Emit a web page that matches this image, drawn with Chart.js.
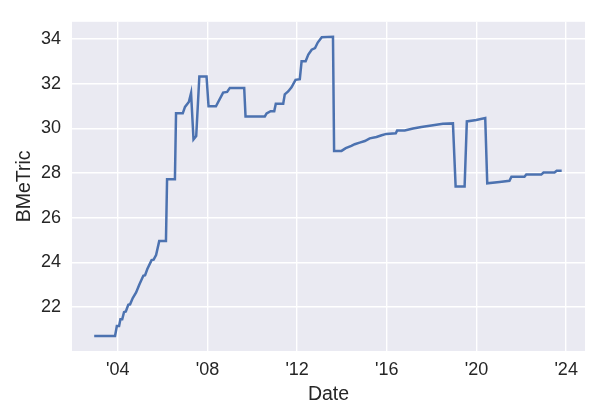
<!DOCTYPE html>
<html>
<head>
<meta charset="utf-8">
<script src="https://cdn.jsdelivr.net/npm/chart.js@4/dist/chart.umd.min.js"></script>
<style>
  html, body { margin: 0; padding: 0; background: #fff; }
  #wrap { width: 600px; height: 420px; }
</style>
</head>
<body>
<div id="wrap"><canvas id="bmetricChart" width="600" height="420"></canvas></div>
<script>
// Dates as decimal years
const dates = [
    2002.95, 2003.88, 2003.96, 2004.06, 2004.12, 2004.2, 2004.28, 2004.36, 2004.47, 2004.55,
    2004.67, 2004.82, 2004.96, 2005.14, 2005.22, 2005.32, 2005.51, 2005.6, 2005.71, 2005.85,
    2006.15, 2006.2, 2006.55, 2006.6, 2006.9,
    2007.0, 2007.17, 2007.27, 2007.31, 2007.38, 2007.5, 2007.64, 2007.96, 2008.05, 2008.38,
    2008.7, 2008.88, 2009.0, 2009.64, 2009.7, 2010.56, 2010.64, 2010.82, 2010.98, 2011.05,
    2011.38, 2011.45, 2011.6, 2011.75, 2011.93, 2012.12, 2012.2, 2012.38, 2012.5, 2012.65,
    2012.8, 2012.92, 2013.1, 2013.6, 2013.65, 2013.98, 2014.17, 2014.42, 2014.57, 2014.79,
    2015.02, 2015.24, 2015.54, 2015.77, 2015.98, 2016.4, 2016.46, 2016.8, 2017.17, 2017.54,
    2017.99, 2018.5, 2018.95, 2019.07, 2019.47, 2019.57, 2019.99, 2020.39, 2020.48, 2021.03,
    2021.47, 2021.56, 2022.14, 2022.22, 2022.89, 2022.99, 2023.48, 2023.58, 2023.8
];
const bmetric = [
    20.7, 20.7, 21.15, 21.15, 21.45, 21.45, 21.77, 21.8, 22.1, 22.12,
    22.4, 22.65, 23.0, 23.4, 23.42, 23.7, 24.1, 24.12, 24.33, 24.95,
    24.95, 27.72, 27.72, 30.67, 30.67,
    30.96, 31.18, 31.58, 31.58, 29.5, 29.65, 32.32, 32.32, 30.99, 30.99,
    31.6, 31.63, 31.81, 31.81, 30.53, 30.53, 30.67, 30.77, 30.77, 31.1,
    31.1, 31.52, 31.65, 31.84, 32.17, 32.2, 33.0, 33.0, 33.3, 33.52,
    33.59, 33.84, 34.08, 34.1, 28.99, 28.99, 29.11, 29.21, 29.29, 29.36,
    29.43, 29.55, 29.61, 29.69, 29.75, 29.78, 29.9, 29.9, 29.99, 30.06,
    30.13, 30.2, 30.22, 27.39, 27.39, 30.31, 30.37, 30.46, 27.54, 27.6,
    27.65, 27.83, 27.83, 27.93, 27.93, 28.02, 28.02, 28.1, 28.1
];
const xTicks = [2004, 2008, 2012, 2016, 2020, 2024];
const yTicks = [22, 24, 26, 28, 30, 32, 34];

const textColor = '#262626';
const fontFamily = '"Liberation Sans", Arial, sans-serif';

// grey plot background like seaborn darkgrid
const plotBackground = {
    id: 'plotBackground',
    beforeDraw(chart) {
        const { ctx, chartArea: a } = chart;
        ctx.save();
        ctx.fillStyle = '#EAEAF2';
        ctx.fillRect(a.left, a.top, a.right - a.left, a.bottom - a.top);
        ctx.restore();
    }
};

const points = dates.map((d, i) => ({ x: d, y: bmetric[i] }));

new Chart(document.getElementById('bmetricChart'), {
    type: 'line',
    data: {
        datasets: [{
            label: 'BMeTric',
            data: points,
            borderColor: '#4C72B0',
            borderWidth: 2.5,
            pointRadius: 0,
            tension: 0,
            fill: false
        }]
    },
    options: {
        responsive: false,
        animation: false,
        events: [],
        layout: { padding: { left: 0, top: 15, right: 15, bottom: 0 } },
        plugins: { legend: { display: false }, tooltip: { enabled: false } },
        scales: {
            x: {
                type: 'linear',
                min: 2001.96,
                max: 2024.84,
                afterBuildTicks: s => { s.ticks = xTicks.map(v => ({ value: v })); },
                afterFit: s => { s.height = 69; },
                grid: { color: '#ffffff', lineWidth: 1.4, drawTicks: false },
                border: { display: false },
                ticks: {
                    padding: 8.5,
                    color: textColor,
                    font: { family: fontFamily, size: 18 },
                    maxRotation: 0,
                    callback: v => "'" + String(v).slice(2)
                },
                title: {
                    display: true,
                    text: 'Date',
                    color: textColor,
                    font: { family: fontFamily, size: 19.5 },
                    padding: { top: 0, bottom: 14 }
                }
            },
            y: {
                min: 20.03,
                max: 34.77,
                afterBuildTicks: s => { s.ticks = yTicks.map(v => ({ value: v })); },
                afterFit: s => { s.width = 72; },
                grid: { color: '#ffffff', lineWidth: 1.4, drawTicks: false },
                border: { display: false },
                ticks: {
                    padding: 11,
                    color: textColor,
                    font: { family: fontFamily, size: 18 }
                },
                title: {
                    display: true,
                    text: 'BMeTric',
                    color: textColor,
                    font: { family: fontFamily, size: 19.5 },
                    padding: { top: 13, bottom: 0 }
                }
            }
        }
    },
    plugins: [plotBackground]
});
</script>
</body>
</html>
